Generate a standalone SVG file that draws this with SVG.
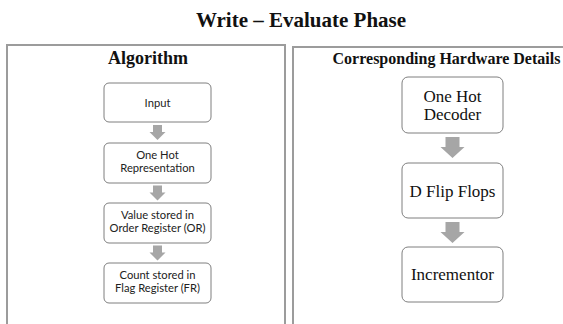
<svg xmlns="http://www.w3.org/2000/svg" width="563" height="324" viewBox="0 0 563 324">
  <style>
    .title { font-family: "Liberation Serif", "Times New Roman", serif; font-weight: bold; fill: #111; }
    .panel { fill: #fff; stroke: #9c9c9c; stroke-width: 2; }
    .box { fill: #fff; stroke: #7f7f7f; stroke-width: 1; }
    .alg { font-family: Lato, "Liberation Sans", sans-serif; font-size: 11.2px; fill: #222; text-anchor: middle; }
    .hw { font-family: "Liberation Serif", "Times New Roman", serif; font-size: 17px; fill: #111; text-anchor: middle; }
    .arrow { fill: #a6a6a6; }
  </style>
  <defs>
    <path id="arrowSmall" d="M-4.5,0 H4.5 V7 H8 L0,15 L-8,7 H-4.5 Z"/>
    <path id="arrowLarge" d="M-7,0 H7 V10 H12 L0,21 L-12,10 H-7 Z"/>
  </defs>
  <rect width="563" height="324" fill="#fff"/>

  <text class="title" x="301" y="27" font-size="21" text-anchor="middle">Write – Evaluate Phase</text>

  <!-- Left panel: algorithm steps -->
  <g id="algorithm-panel">
    <rect class="panel" x="7" y="45" width="278" height="300"/>
    <text class="title" x="148" y="64" font-size="18" text-anchor="middle">Algorithm</text>
  </g>
  <g id="input">
    <rect class="box" x="104" y="83" width="107" height="39" rx="5"/>
    <text class="alg" x="157.5" y="107">Input</text>
  </g>
  <g id="one-hot-representation">
    <rect class="box" x="104" y="143" width="107" height="40" rx="5"/>
    <text class="alg" x="157.5" y="159">One Hot</text>
    <text class="alg" x="157.5" y="172">Representation</text>
  </g>
  <g id="order-register">
    <rect class="box" x="104" y="203" width="107" height="40" rx="5"/>
    <text class="alg" x="157.5" y="219">Value stored in</text>
    <text class="alg" x="157.5" y="232">Order Register (OR)</text>
  </g>
  <g id="flag-register">
    <rect class="box" x="104" y="263" width="107" height="40" rx="5"/>
    <text class="alg" x="157.5" y="279">Count stored in</text>
    <text class="alg" x="157.5" y="292">Flag Register (FR)</text>
  </g>

  <!-- Right panel: hardware blocks -->
  <g id="hardware-panel">
    <rect class="panel" x="293" y="47" width="290" height="300"/>
    <text class="title" x="446.5" y="64" font-size="16" text-anchor="middle">Corresponding Hardware Details</text>
  </g>
  <g id="one-hot-decoder">
    <rect class="box" x="402" y="77" width="101" height="56" rx="6"/>
    <text class="hw" x="452.5" y="102">One Hot</text>
    <text class="hw" x="452.5" y="120">Decoder</text>
  </g>
  <g id="d-flip-flops">
    <rect class="box" x="402" y="163" width="101" height="55" rx="6"/>
    <text class="hw" x="452.5" y="197">D Flip Flops</text>
  </g>
  <g id="incrementor">
    <rect class="box" x="402" y="247" width="101" height="55" rx="6"/>
    <text class="hw" x="452.5" y="280">Incrementor</text>
  </g>

  <!-- Block arrows between steps -->
  <g id="connectors" class="arrow">
    <use href="#arrowSmall" x="157.5" y="125"/>
    <use href="#arrowSmall" x="157.5" y="185.5"/>
    <use href="#arrowSmall" x="157.5" y="245.5"/>
    <use href="#arrowLarge" x="452.5" y="137"/>
    <use href="#arrowLarge" x="452.5" y="222"/>
  </g>
</svg>
